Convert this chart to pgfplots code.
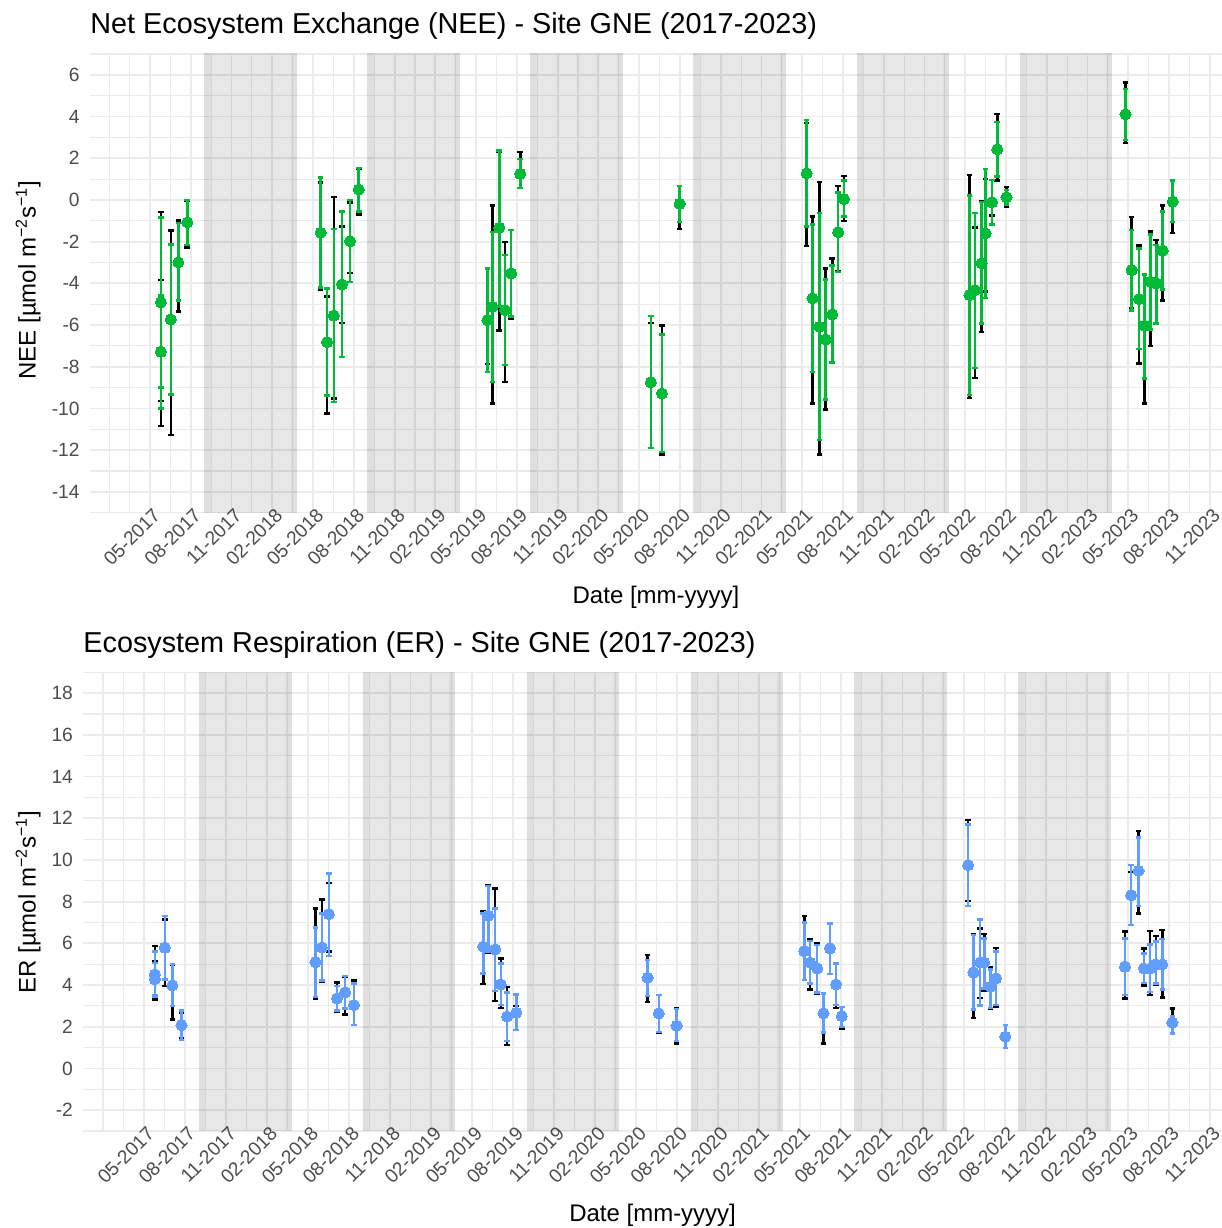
\documentclass[border=0pt]{standalone}
\usepackage{fontspec}
\setmainfont{Liberation Sans}
\usepackage{pgfplots}
\pgfplotsset{compat=1.18}
\usepackage{pgfplotstable}
\definecolor{neegreen}{HTML}{00BA38}
\definecolor{erblue}{HTML}{619CFF}
\definecolor{gridc}{HTML}{EBEBEB}
\definecolor{ticktext}{HTML}{4D4D4D}

% x = months since 1 Jan 2017; y = value; gm/gp = inner (coloured) bar; bm/bp = outer (black) bar
\pgfplotstableread{
x y gm gp bm bp
4.80 -4.91 -8.99 -0.85 -9.65 -0.59
4.80 -7.28 -10.00 -4.59 -10.83 -3.84
5.53 -5.73 -9.33 -2.13 -11.28 -1.46
6.08 -2.99 -4.83 -1.12 -5.36 -0.98
6.74 -1.07 -2.16 0.00 -2.29 -0.05
16.56 -1.57 -4.20 1.07 -4.32 0.83
17.03 -6.82 -9.38 -4.24 -10.24 -4.64
17.53 -5.55 -9.68 -1.39 -9.52 0.14
18.13 -4.05 -7.54 -0.56 -5.89 -1.28
18.72 -1.98 -3.95 0.00 -3.49 -0.13
19.36 0.50 -0.56 1.52 -0.69 1.50
28.83 -5.76 -8.24 -3.28 -7.87 -3.28
29.20 -5.12 -8.72 -1.55 -9.76 -0.26
29.70 -1.34 -5.12 2.37 -6.27 2.30
30.12 -5.28 -7.92 -2.64 -8.72 -2.03
30.58 -3.52 -5.60 -1.44 -5.68 -1.44
31.25 1.25 0.56 1.95 0.56 2.30
40.86 -8.74 -11.89 -5.58 -11.89 -5.89
41.68 -9.28 -12.10 -6.45 -12.20 -6.02
42.98 -0.19 -1.07 0.67 -1.39 0.67
52.33 1.28 -1.28 3.84 -2.21 3.68
52.76 -4.72 -8.26 -1.17 -9.76 -0.80
53.27 -6.08 -11.52 -0.64 -12.21 0.85
53.73 -6.69 -9.57 -3.82 -10.05 -3.28
54.21 -5.49 -7.79 -3.15 -7.79 -2.80
54.65 -1.55 -3.46 0.35 -3.40 0.67
55.07 0.05 -0.80 0.93 -1.01 1.15
64.32 -4.56 -9.36 0.21 -9.49 1.20
64.71 -4.32 -8.05 -0.64 -8.53 -1.33
65.20 -3.04 -5.92 -0.11 -6.32 -0.08
65.50 -1.60 -4.69 1.49 -4.40 1.01
65.97 -0.11 -1.17 0.96 -0.75 0.96
66.36 2.43 1.12 3.73 0.93 4.11
67.04 0.13 -0.21 0.48 -0.32 0.61
75.80 4.11 2.88 5.33 2.72 5.63
76.25 -3.36 -5.31 -1.44 -5.20 -0.83
76.79 -4.75 -7.15 -2.32 -7.84 -2.19
77.19 -6.03 -8.56 -3.57 -9.76 -3.57
77.64 -3.92 -6.21 -1.65 -7.01 -1.52
78.06 -4.00 -5.92 -2.16 -5.92 -1.92
78.53 -2.43 -4.29 -0.56 -4.83 -0.27
79.27 -0.08 -1.07 0.93 -1.60 0.93
}\needata

\pgfplotstableread{
x y gm gp bm bp
4.80 4.51 3.44 5.60 3.30 5.87
4.80 4.28 3.50 5.05 3.28 5.12
5.53 5.79 4.27 7.31 3.95 7.15
6.08 3.98 2.99 5.00 2.35 4.95
6.74 2.08 1.36 2.77 1.44 2.69
16.56 5.10 3.44 6.75 3.32 7.67
17.03 5.80 4.21 7.43 4.15 8.11
17.53 7.40 5.40 9.35 5.60 8.90
18.13 3.36 2.77 3.95 2.72 4.12
18.72 3.65 2.88 4.44 2.59 4.40
19.36 3.04 2.08 4.08 2.08 4.22
28.83 5.84 4.56 7.43 4.04 7.55
29.20 7.32 5.60 8.74 5.55 8.79
29.70 5.71 3.71 7.67 3.23 8.63
30.12 4.03 3.04 5.04 2.91 5.28
30.58 2.49 1.31 3.65 1.12 3.92
31.25 2.67 1.84 3.55 1.84 3.00
40.86 4.35 3.47 5.20 3.20 5.44
41.68 2.64 1.76 3.52 1.72 3.52
42.98 2.05 1.33 2.85 1.20 2.88
52.33 5.63 4.24 6.99 4.24 7.32
52.76 5.08 4.08 6.11 3.79 6.19
53.27 4.80 3.65 5.91 3.60 6.03
53.73 2.65 1.73 3.60 1.20 3.60
54.21 5.76 4.52 6.95 4.52 6.95
54.65 4.03 3.04 5.04 2.91 5.07
55.07 2.51 2.00 2.96 1.89 2.96
64.32 9.75 7.80 11.70 8.04 11.91
64.71 4.60 2.83 6.39 2.43 6.44
65.20 5.08 3.01 7.15 3.39 6.71
65.50 5.08 3.84 6.24 3.71 6.44
65.97 3.92 2.91 4.75 2.88 4.87
66.36 4.32 3.04 5.60 2.94 5.79
67.04 1.52 0.99 2.08 0.99 2.08
75.80 4.88 3.52 6.24 3.36 6.56
76.25 8.31 6.87 9.75 6.87 9.43
76.79 9.48 7.79 11.08 7.43 11.40
77.19 4.80 4.11 5.52 3.97 5.76
77.64 4.80 3.68 5.95 3.52 6.59
78.06 4.99 4.08 6.08 4.00 6.36
78.53 4.99 3.79 6.20 3.41 6.63
79.27 2.19 1.68 2.50 1.68 2.88
}\erdata

\newcommand{\tickfont}{\fontsize{9.6}{11}\selectfont}
\newcommand{\band}[4]{%
  \addplot[bandfill] coordinates {(#1,-50) (#4,-50) (#4,50) (#1,50)} -- cycle;
  \addplot[bandedge] coordinates {(#1,-50) (#2,-50) (#2,50) (#1,50)} -- cycle;
  \addplot[bandedge] coordinates {(#3,-50) (#4,-50) (#4,50) (#3,50)} -- cycle;
}
\newcommand{\allbands}{%
  \band{8}{8.45}{14.35}{14.8}
  \band{20}{20.45}{26.35}{26.8}
  \band{32}{32.45}{38.35}{38.8}
  \band{44}{44.45}{50.35}{50.8}
  \band{56}{56.45}{62.35}{62.8}
  \band{68}{68.45}{74.35}{74.8}
}

\pgfplotsset{
  bandfill/.style={fill=black, fill opacity=0.095, draw=none, forget plot},
  bandedge/.style={fill=black, fill opacity=0.035, draw=none, forget plot},
  gnebase/.style={
    scale only axis,
    xmax=82.9,
    axis line style={draw=none},
    major tick length=0pt, minor tick length=0pt,
    grid=both,
    major grid style={gridc, line width=0.9pt},
    minor grid style={gridc, line width=0.55pt},
    xtick={4,7,...,82},
    xticklabels={05-2017,08-2017,11-2017,02-2018,05-2018,08-2018,11-2018,02-2019,05-2019,08-2019,11-2019,02-2020,05-2020,08-2020,11-2020,02-2021,05-2021,08-2021,11-2021,02-2022,05-2022,08-2022,11-2022,02-2023,05-2023,08-2023,11-2023},
    minor xtick={1,2.5,...,83},
    xticklabel style={font=\tickfont, text=ticktext, inner sep=0pt, anchor=north east, xshift=1pt, yshift=3pt, rotate=45},
    yticklabel style={font=\tickfont, text=ticktext, inner sep=0pt, anchor=east, xshift=-5pt},
  },
  blackbars/.style={only marks, mark=none, forget plot,
    error bars/.cd, y dir=both, y explicit,
    error bar style={draw=black, line width=1.3pt},
    error mark options={draw=black, rotate=90, mark size=1.4pt, line width=1.2pt}},
  colbars/.style={only marks, mark=*, mark size=2.8pt, color=#1,
    mark options={draw=#1, fill=#1, line width=0pt},
    error bars/.cd, y dir=both, y explicit,
    error bar style={draw=#1, line width=1.3pt},
    error mark options={draw=#1, rotate=90, mark size=1.4pt, line width=1.2pt}},
}

\begin{document}
\begin{tikzpicture}
\path[use as bounding box] (0,0) rectangle (611pt,614pt);

% ---------- top panel: NEE ----------
\begin{axis}[gnebase,
  at={(45pt,357.65pt)}, anchor=south west,
  width=566pt, height=229.35pt,
  xmin=-0.42,
  ymin=-15, ymax=7,
  ytick={-14,-12,...,6},
  yticklabels={-14,-12,-10,-8,-6,-4,-2,0,2,4,6},
  minor ytick={-15,-13,...,7},
]
\allbands
\addplot[blackbars] table[x=x, y=y, y error plus expr=\thisrow{bp}-\thisrow{y}, y error minus expr=\thisrow{y}-\thisrow{bm}] {\needata};
\addplot[colbars=neegreen] table[x=x, y=y, y error plus expr=\thisrow{gp}-\thisrow{y}, y error minus expr=\thisrow{y}-\thisrow{gm}] {\needata};
\end{axis}

% ---------- bottom panel: ER ----------
\begin{axis}[gnebase,
  at={(41.65pt,48.5pt)}, anchor=south west,
  width=569.35pt, height=229.35pt,
  xmin=-0.44,
  ymin=-3, ymax=19,
  ytick={-2,0,...,18},
  yticklabels={-2,0,2,4,6,8,10,12,14,16,18},
  minor ytick={-3,-1,...,19},
]
\allbands
\addplot[blackbars] table[x=x, y=y, y error plus expr=\thisrow{bp}-\thisrow{y}, y error minus expr=\thisrow{y}-\thisrow{bm}] {\erdata};
\addplot[colbars=erblue] table[x=x, y=y, y error plus expr=\thisrow{gp}-\thisrow{y}, y error minus expr=\thisrow{y}-\thisrow{gm}] {\erdata};
\end{axis}

% ---------- titles and axis titles ----------
\node[anchor=base west, inner sep=0pt, font=\fontsize{14.4}{17}\selectfont] at (45pt,597.2pt)
  {Net Ecosystem Exchange (NEE) - Site GNE (2017-2023)};
\node[anchor=base west, inner sep=0pt, font=\fontsize{14.4}{17}\selectfont] at (41.5pt,287.5pt)
  {Ecosystem Respiration (ER) - Site GNE (2017-2023)};
\node[anchor=base, inner sep=0pt, font=\fontsize{12}{14}\selectfont] at (328pt,312pt) {Date [mm-yyyy]};
\node[anchor=base, inner sep=0pt, font=\fontsize{12}{14}\selectfont] at (326.3pt,3pt) {Date [mm-yyyy]};
\node[rotate=90, anchor=base, inner sep=0pt, font=\fontsize{12}{14}\selectfont] at (17.75pt,474pt)
  {NEE [µmol m\textsuperscript{−2}s\textsuperscript{−1}]};
\node[rotate=90, anchor=base, inner sep=0pt, font=\fontsize{12}{14}\selectfont] at (17.75pt,163pt)
  {ER [µmol m\textsuperscript{−2}s\textsuperscript{−1}]};
\end{tikzpicture}
\end{document}
